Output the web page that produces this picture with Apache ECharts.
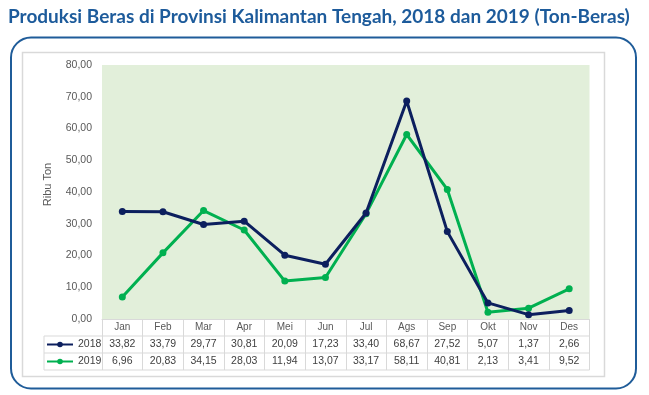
<!DOCTYPE html>
<html>
<head>
<meta charset="utf-8">
<script src="https://cdn.jsdelivr.net/npm/echarts@6/dist/echarts.min.js"></script>
<style>
html,body{margin:0;padding:0;background:#fff;}
#c{width:649px;height:395px;}
</style>
</head>
<body>
<div id="c"></div>
<script>
const months = ['Jan','Feb','Mar','Apr','Mei','Jun','Jul','Ags','Sep','Okt','Nov','Des'];
const values2018 = [33.82,33.79,29.77,30.81,20.09,17.23,33.40,68.67,27.52,5.07,1.37,2.66];
const values2019 = [6.96,20.83,34.15,28.03,11.94,13.07,33.17,58.11,40.81,2.13,3.41,9.52];
const yTicks = [0,10,20,30,40,50,60,70,80];

const fmt = v => v.toFixed(2).replace('.', ',');

// layout
const G = {left:102, top:65, right:59.5, bottom:76};
const W = 649, H = 395;
const gx0 = G.left, gx1 = W - G.right, gy1 = H - G.bottom;
const rowH = 17;
const tableLeft = 44;
const gridColor = '#d9d9d9';

const chart = echarts.init(document.getElementById('c'), null, {renderer:'canvas'});

const graphics = [
  {type:'rect', shape:{x:11, y:37.5, width:625, height:351, r:20}, style:{fill:'none', stroke:'#1f5c99', lineWidth:2}, z:-10},
  {type:'rect', shape:{x:22.5, y:52.5, width:582, height:324}, style:{fill:'#fff', stroke:'#d9d9d9', lineWidth:1.5}, z:-9},
];
for (let i = 1; i <= 3; i++) {
  const y = gy1 + rowH * i;
  graphics.push({type:'line', shape:{x1:tableLeft, y1:y, x2:gx1, y2:y}, style:{stroke:gridColor, lineWidth:1}, z:5});
}
graphics.push({type:'line', shape:{x1:tableLeft, y1:gy1+rowH, x2:tableLeft, y2:gy1+rowH*3}, style:{stroke:gridColor, lineWidth:1}, z:5});

chart.setOption({
  animation:false,
  backgroundColor:'#fff',
  title:{
    text:'Produksi Beras di Provinsi Kalimantan Tengah, 2018 dan 2019 (Ton-Beras)',
    left:3, top:2,
    textStyle:{fontFamily:'Lato', fontWeight:'bold', fontSize:19, color:'#1d5b9b'}
  },
  legend:{
    orient:'vertical', left:46, top:gy1 + rowH + 2, itemGap:4, padding:0,
    itemWidth:26, itemHeight:7,
    textStyle:{fontFamily:'Liberation Sans', fontSize:10.5, color:'#404040', lineHeight:13},
    data:['2018','2019']
  },
  grid:{left:G.left, top:G.top, right:G.right, bottom:G.bottom, show:true, backgroundColor:'#e2efda', borderWidth:0},
  xAxis:{
    type:'category', data:months, boundaryGap:true,
    axisLine:{show:true, lineStyle:{color:gridColor, width:1}},
    axisTick:{show:true, interval:0, length:rowH*3, lineStyle:{color:gridColor, width:1}},
    axisLabel:{
      interval:0, margin:0,
      formatter:(v, i) => `{m|${v}}\n{a|${fmt(values2018[i])}}\n{a|${fmt(values2019[i])}}`,
      rich:{
        m:{fontFamily:'Liberation Sans', fontSize:10, color:'#595959', lineHeight:rowH, height:rowH},
        a:{fontFamily:'Liberation Sans', fontSize:10.5, color:'#404040', lineHeight:rowH, height:rowH}
      }
    }
  },
  yAxis:{
    type:'value', min:yTicks[0], max:yTicks[yTicks.length-1], interval:yTicks[1]-yTicks[0],
    name:'Ribu Ton', nameLocation:'middle', nameGap:49, nameRotate:90,
    nameTextStyle:{fontFamily:'Liberation Sans', fontSize:11, color:'#595959', padding:[0,0,0,15]},
    axisLine:{show:false}, axisTick:{show:false}, splitLine:{show:false},
    axisLabel:{formatter:v => fmt(v), fontFamily:'Liberation Sans', fontSize:10.5, color:'#595959', margin:10}
  },
  series:[
    {name:'2018', type:'line', data:values2018, symbol:'circle', symbolSize:7,
     lineStyle:{color:'#0c1f5e', width:3}, itemStyle:{color:'#0c1f5e'}, z:3},
    {name:'2019', type:'line', data:values2019, symbol:'circle', symbolSize:7,
     lineStyle:{color:'#00b050', width:3}, itemStyle:{color:'#00b050'}, z:2}
  ],
  graphic:graphics
});
</script>
</body>
</html>
